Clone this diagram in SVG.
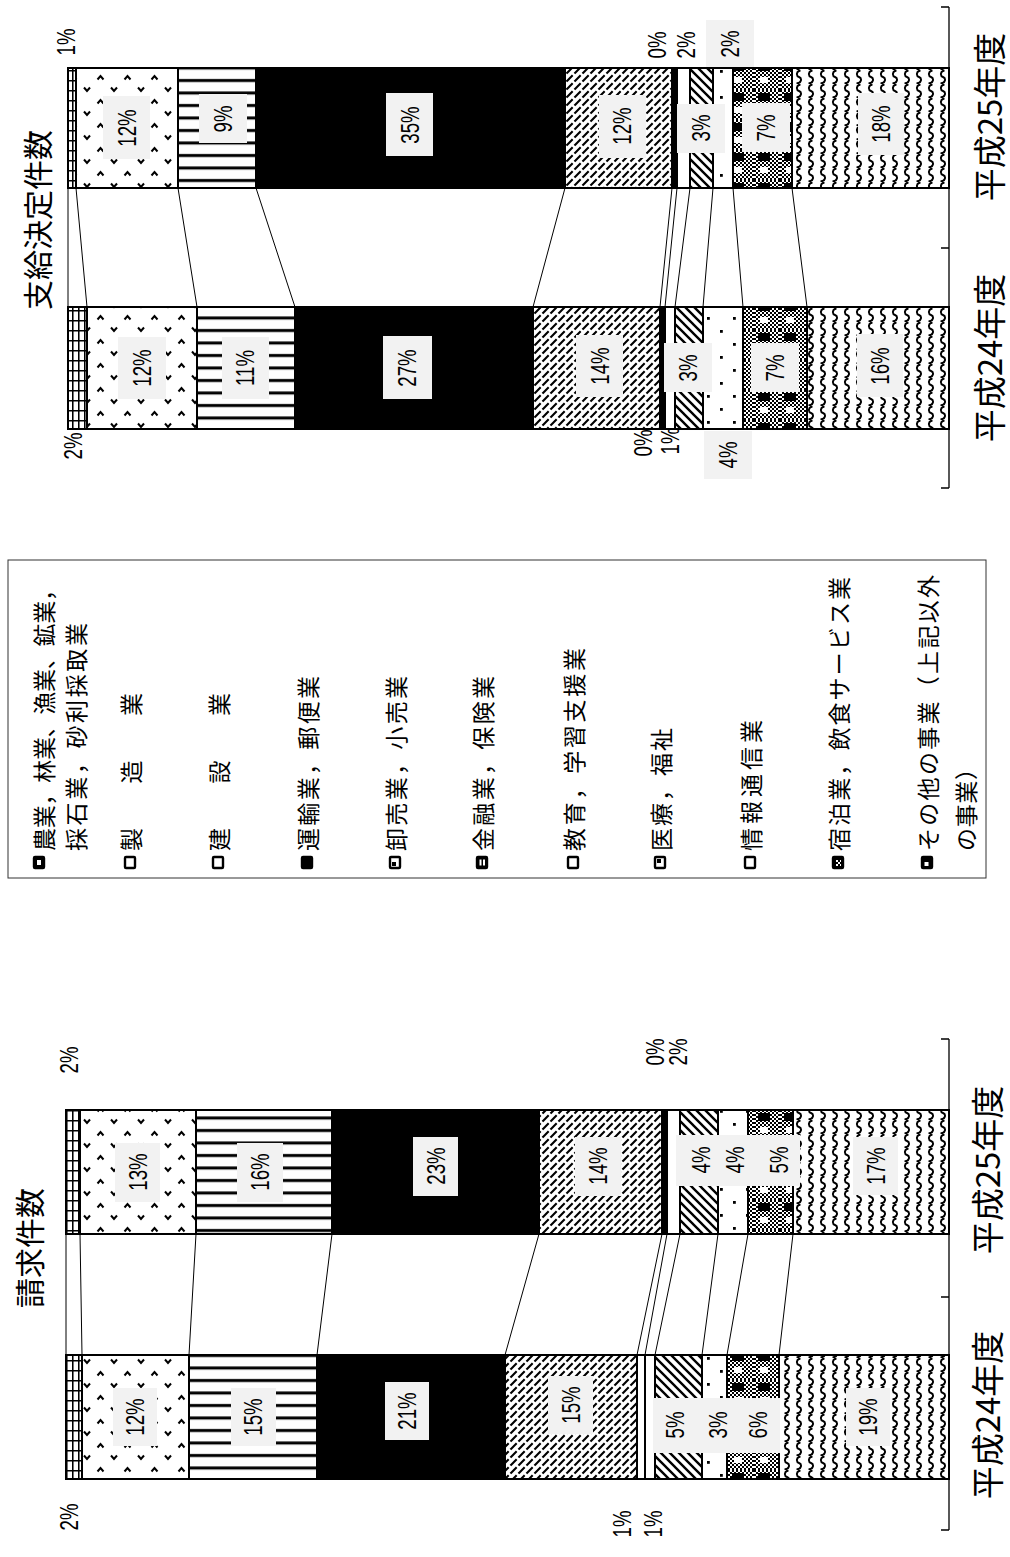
<svg xmlns="http://www.w3.org/2000/svg" width="1010" height="1557" viewBox="0 0 1010 1557">
<style>
.s{stroke:#000;stroke-width:2}
.c{stroke:#000;stroke-width:1;fill:none}
.ax{stroke:#000;stroke-width:1.3;fill:none}
.bx{fill:#f2f2f2}
.pct{font-family:"Liberation Sans",Arial,sans-serif;font-size:26px;fill:#000;text-anchor:middle;dominant-baseline:central}
.lg{font-family:"Noto Sans CJK JP","Noto Sans CJK SC",sans-serif;font-size:23px;fill:#000;dominant-baseline:central}
.ttl{font-family:"Noto Sans CJK JP","Noto Sans CJK SC",sans-serif;font-size:30px;fill:#000;text-anchor:middle;dominant-baseline:central}
.yr{font-family:"Noto Sans CJK JP","Noto Sans CJK SC",sans-serif;font-size:33px;fill:#000;text-anchor:middle;dominant-baseline:central}
.ic{stroke:#000;stroke-width:2.4}
</style>
<defs>
<pattern id="pAgri" width="6" height="10" patternUnits="userSpaceOnUse">
<rect width="6" height="10" fill="#fff"/>
<path d="M0.75,0V10M0,0.75H6" stroke="#000" stroke-width="1.6"/>
</pattern>
<pattern id="pManu" width="27" height="24" patternUnits="userSpaceOnUse">
<rect width="27" height="24" fill="#fff"/>
<path d="M16.5,7.5 l3,-3.5 l3,3.5 M3,15.5 l3,3.5 l3,-3.5" stroke="#000" stroke-width="2" fill="none"/>
</pattern>
<pattern id="pCons" width="10" height="12.5" patternUnits="userSpaceOnUse">
<rect width="10" height="12.5" fill="#fff"/>
<rect y="4" width="10" height="3" fill="#000"/>
</pattern>
<pattern id="pWhole" width="8" height="8" patternUnits="userSpaceOnUse">
<rect width="8" height="8" fill="#fff"/>
<path d="M-1,9 L9,-1 M-1,1 L1,-1 M7,9 L9,7" stroke="#000" stroke-width="2.1" stroke-dasharray="8 2.5"/>
</pattern>
<pattern id="pMed" width="9" height="9" patternUnits="userSpaceOnUse">
<rect width="9" height="9" fill="#fff"/>
<path d="M-1,-1 L10,10 M-1,8 L1,10 M8,-1 L10,1" stroke="#000" stroke-width="2.4"/>
</pattern>
<pattern id="pInfo" width="26" height="26" patternUnits="userSpaceOnUse">
<rect width="26" height="26" fill="#fff"/>
<rect x="5" y="5" width="2.8" height="2.8" fill="#000"/>
<rect x="18" y="18" width="2.8" height="2.8" fill="#000"/>
</pattern>
<pattern id="pChk" width="4" height="4" patternUnits="userSpaceOnUse">
<rect width="4" height="4" fill="#fff"/>
<rect width="2" height="2" fill="#000"/>
<rect x="2" y="2" width="2" height="2" fill="#000"/>
</pattern>
<pattern id="pHosp" width="26" height="30" patternUnits="userSpaceOnUse">
<rect width="26" height="30" fill="url(#pChk)"/>
<rect x="4" y="3" width="12" height="8" fill="#000"/>
<rect x="6" y="17" width="8" height="6" fill="#fff"/>
</pattern>
<pattern id="pOth" width="12" height="14" patternUnits="userSpaceOnUse">
<rect width="12" height="14" fill="#fff"/>
<path d="M8.5,0.5 c-4.5,0.5 -4.5,5.5 -1.5,6.5 c3,1 3,6 -2.5,6.5" stroke="#000" stroke-width="1.9" fill="none"/>
</pattern>
</defs>

<rect width="1010" height="1557" fill="#fff"/>

<!-- Top chart: 支給決定件数 -->
<g id="title-top"><text class="ttl" transform="translate(36,220) rotate(-90)">支給決定件数</text></g>

<g id="axis-top">
<path class="ax" d="M949,7V488M941,7H949M941,248H949M941,488H949"/>
</g>

<g id="bar-top-h25">
<rect class="s" x="68" y="68" width="8" height="120" fill="url(#pAgri)"/>
<rect class="s" x="76" y="68" width="102" height="120" fill="url(#pManu)"/>
<rect class="s" x="178" y="68" width="78" height="120" fill="url(#pCons)"/>
<rect class="s" x="256" y="68" width="309" height="120" fill="#000"/>
<rect class="s" x="565" y="68" width="107" height="120" fill="url(#pWhole)"/>
<rect class="s" x="672" y="68" width="5" height="120" fill="#000"/>
<rect class="s" x="677" y="68" width="13" height="120" fill="#fff"/>
<rect class="s" x="690" y="68" width="23" height="120" fill="url(#pMed)"/>
<rect class="s" x="713" y="68" width="20" height="120" fill="url(#pInfo)"/>
<rect class="s" x="733" y="68" width="59" height="120" fill="url(#pHosp)"/>
<rect class="s" x="792" y="68" width="157" height="120" fill="url(#pOth)"/>
</g>

<g id="bar-top-h24">
<rect class="s" x="68" y="307" width="19" height="122" fill="url(#pAgri)"/>
<rect class="s" x="87" y="307" width="110" height="122" fill="url(#pManu)"/>
<rect class="s" x="197" y="307" width="98" height="122" fill="url(#pCons)"/>
<rect class="s" x="295" y="307" width="238" height="122" fill="#000"/>
<rect class="s" x="533" y="307" width="127" height="122" fill="url(#pWhole)"/>
<rect class="s" x="660" y="307" width="5" height="122" fill="#000"/>
<rect class="s" x="665" y="307" width="10" height="122" fill="#fff"/>
<rect class="s" x="675" y="307" width="28" height="122" fill="url(#pMed)"/>
<rect class="s" x="703" y="307" width="40" height="122" fill="url(#pInfo)"/>
<rect class="s" x="743" y="307" width="64" height="122" fill="url(#pHosp)"/>
<rect class="s" x="807" y="307" width="142" height="122" fill="url(#pOth)"/>
</g>

<g id="connectors-top">
<path class="c" d="M68,188L68,307M76,188L87,307M178,188L197,307M256,188L295,307M565,188L533,307M672,188L660,307M677,188L665,307M690,188L675,307M713,188L703,307M733,188L743,307M792,188L807,307"/>
</g>

<g id="labels-top">
<rect class="bx" x="103" y="96" width="47" height="63"/><text class="pct" transform="translate(127,128) rotate(-90) scale(0.72,1)">12%</text>
<rect class="bx" x="199" y="94" width="48" height="49"/><text class="pct" transform="translate(223,119) rotate(-90) scale(0.72,1)">9%</text>
<rect class="bx" x="386" y="93" width="47" height="63"/><text class="pct" transform="translate(410,125) rotate(-90) scale(0.72,1)">35%</text>
<rect class="bx" x="599" y="95" width="47" height="63"/><text class="pct" transform="translate(622,126) rotate(-90) scale(0.72,1)">12%</text>
<rect class="bx" x="677" y="104" width="48" height="49"/><text class="pct" transform="translate(701,128) rotate(-90) scale(0.72,1)">3%</text>
<rect class="bx" x="742" y="103" width="48" height="49"/><text class="pct" transform="translate(766,128) rotate(-90) scale(0.72,1)">7%</text>
<rect class="bx" x="858" y="93" width="46" height="62"/><text class="pct" transform="translate(881,124) rotate(-90) scale(0.72,1)">18%</text>
<text class="pct" transform="translate(66,42) rotate(-90) scale(0.72,1)">1%</text>
<text class="pct" transform="translate(657,45) rotate(-90) scale(0.72,1)">0%</text>
<text class="pct" transform="translate(686,45) rotate(-90) scale(0.72,1)">2%</text>
<rect class="bx" x="706" y="20" width="48" height="47"/><text class="pct" transform="translate(730,44) rotate(-90) scale(0.72,1)">2%</text>

<rect class="bx" x="118" y="337" width="48" height="62"/><text class="pct" transform="translate(142,368) rotate(-90) scale(0.72,1)">12%</text>
<rect class="bx" x="222" y="337" width="47" height="62"/><text class="pct" transform="translate(245,368) rotate(-90) scale(0.72,1)">11%</text>
<rect class="bx" x="383" y="336" width="49" height="63"/><text class="pct" transform="translate(407,368) rotate(-90) scale(0.72,1)">27%</text>
<rect class="bx" x="576" y="335" width="47" height="62"/><text class="pct" transform="translate(600,366) rotate(-90) scale(0.72,1)">14%</text>
<rect class="bx" x="664" y="343" width="48" height="49"/><text class="pct" transform="translate(688,368) rotate(-90) scale(0.72,1)">3%</text>
<rect class="bx" x="751" y="343" width="48" height="49"/><text class="pct" transform="translate(775,368) rotate(-90) scale(0.72,1)">7%</text>
<rect class="bx" x="857" y="334" width="46" height="63"/><text class="pct" transform="translate(880,366) rotate(-90) scale(0.72,1)">16%</text>
<text class="pct" transform="translate(73,446) rotate(-90) scale(0.72,1)">2%</text>
<text class="pct" transform="translate(643,443) rotate(-90) scale(0.72,1)">0%</text>
<text class="pct" transform="translate(670,441) rotate(-90) scale(0.72,1)">1%</text>
<rect class="bx" x="704" y="431" width="48" height="48"/><text class="pct" transform="translate(728,455) rotate(-90) scale(0.72,1)">4%</text>
</g>

<g id="years-top">
<text class="yr" transform="translate(988,117) rotate(-90)">平成25年度</text>
<text class="yr" transform="translate(988,358) rotate(-90)">平成24年度</text>
</g>

<!-- Legend -->
<g id="legend">
<rect x="8" y="560" width="978" height="318" fill="#fff" stroke="#333" stroke-width="1"/>
<g id="leg-agri">
<rect class="ic" x="34" y="857" width="10" height="11" fill="#000" rx="1"/><rect x="37" y="860" width="4" height="5" fill="#fff"/>
<text class="lg" transform="translate(43,851) rotate(-90)" textLength="273" lengthAdjust="spacing">農業，林業、漁業、鉱業，</text>
<text class="lg" transform="translate(75,851) rotate(-90)" textLength="228" lengthAdjust="spacing">採石業，砂利採取業</text>
</g>
<g id="leg-manu">
<rect class="ic" x="125" y="857" width="10" height="11" fill="#fff" rx="1"/>
<text class="lg" transform="translate(130,851) rotate(-90)" textLength="158" lengthAdjust="spacing">製　　造　　業</text>
</g>
<g id="leg-cons">
<rect class="ic" x="213" y="857" width="10" height="11" fill="#fff" rx="1"/>
<text class="lg" transform="translate(218,851) rotate(-90)" textLength="158" lengthAdjust="spacing">建　　設　　業</text>
</g>
<g id="leg-trans">
<rect class="ic" x="302" y="857" width="10" height="11" fill="#000" rx="1"/>
<text class="lg" transform="translate(307,851) rotate(-90)" textLength="175" lengthAdjust="spacing">運輸業，郵便業</text>
</g>
<g id="leg-whole">
<rect class="ic" x="390" y="857" width="10" height="11" fill="#fff" rx="1"/><rect x="392" y="862" width="4" height="4" fill="#000"/>
<text class="lg" transform="translate(395,851) rotate(-90)" textLength="175" lengthAdjust="spacing">卸売業，小売業</text>
</g>
<g id="leg-fin">
<rect class="ic" x="477" y="857" width="10" height="11" fill="#000" rx="1"/><rect x="479.5" y="859.5" width="2" height="6" fill="#fff"/><rect x="483" y="859.5" width="2" height="6" fill="#fff"/>
<text class="lg" transform="translate(482,851) rotate(-90)" textLength="175" lengthAdjust="spacing">金融業，保険業</text>
</g>
<g id="leg-edu">
<rect class="ic" x="568" y="857" width="10" height="11" fill="#fff" rx="1"/>
<text class="lg" transform="translate(573,851) rotate(-90)" textLength="203" lengthAdjust="spacing">教育，学習支援業</text>
</g>
<g id="leg-med">
<rect class="ic" x="655" y="857" width="10" height="11" fill="#fff" rx="1"/><rect x="657" y="859" width="4" height="4" fill="#000"/>
<text class="lg" transform="translate(660,851) rotate(-90)" textLength="123" lengthAdjust="spacing">医療，福祉</text>
</g>
<g id="leg-info">
<rect class="ic" x="745" y="857" width="10" height="11" fill="#fff" rx="1"/>
<text class="lg" transform="translate(750,851) rotate(-90)" textLength="131" lengthAdjust="spacing">情報通信業</text>
</g>
<g id="leg-hosp">
<rect class="ic" x="833" y="857" width="10" height="11" fill="#000" rx="1"/><rect x="836" y="860" width="2" height="2" fill="#fff"/><rect x="838" y="862" width="2" height="2" fill="#fff"/><rect x="836" y="864" width="2" height="2" fill="#fff"/><rect x="840" y="860" width="1" height="2" fill="#fff"/><rect x="840" y="864" width="1" height="2" fill="#fff"/>
<text class="lg" transform="translate(838,851) rotate(-90)" textLength="274" lengthAdjust="spacing">宿泊業，飲食サービス業</text>
</g>
<g id="leg-oth">
<rect class="ic" x="922" y="857" width="10" height="11" fill="#000" rx="1"/><rect x="924.5" y="862" width="4" height="4" fill="#fff"/>
<text class="lg" transform="translate(927,851) rotate(-90)" textLength="276" lengthAdjust="spacing">その他の事業（上記以外</text>
<text class="lg" transform="translate(965,851) rotate(-90)" textLength="94" lengthAdjust="spacing">の事業）</text>
</g>
</g>

<!-- Bottom chart: 請求件数 -->
<g id="title-bottom"><text class="ttl" transform="translate(28,1248) rotate(-90)">請求件数</text></g>

<g id="axis-bottom">
<path class="ax" d="M949,1039V1530M941,1039H949M941,1297H949M941,1530H949"/>
</g>

<g id="bar-bottom-h25">
<rect class="s" x="66" y="1110" width="14" height="124" fill="url(#pAgri)"/>
<rect class="s" x="80" y="1110" width="116" height="124" fill="url(#pManu)"/>
<rect class="s" x="196" y="1110" width="136" height="124" fill="url(#pCons)"/>
<rect class="s" x="332" y="1110" width="207" height="124" fill="#000"/>
<rect class="s" x="539" y="1110" width="123" height="124" fill="url(#pWhole)"/>
<rect class="s" x="662" y="1110" width="5" height="124" fill="#000"/>
<rect class="s" x="667" y="1110" width="13" height="124" fill="#fff"/>
<rect class="s" x="680" y="1110" width="38" height="124" fill="url(#pMed)"/>
<rect class="s" x="718" y="1110" width="30" height="124" fill="url(#pInfo)"/>
<rect class="s" x="748" y="1110" width="45" height="124" fill="url(#pHosp)"/>
<rect class="s" x="793" y="1110" width="156" height="124" fill="url(#pOth)"/>
</g>

<g id="bar-bottom-h24">
<rect class="s" x="66" y="1355" width="16" height="124" fill="url(#pAgri)"/>
<rect class="s" x="82" y="1355" width="107" height="124" fill="url(#pManu)"/>
<rect class="s" x="189" y="1355" width="128" height="124" fill="url(#pCons)"/>
<rect class="s" x="317" y="1355" width="188" height="124" fill="#000"/>
<rect class="s" x="505" y="1355" width="132" height="124" fill="url(#pWhole)"/>
<rect class="s" x="637" y="1355" width="8" height="124" fill="#fff"/>
<rect class="s" x="645" y="1355" width="10" height="124" fill="#fff"/>
<rect class="s" x="655" y="1355" width="47" height="124" fill="url(#pMed)"/>
<rect class="s" x="702" y="1355" width="25" height="124" fill="url(#pInfo)"/>
<rect class="s" x="727" y="1355" width="52" height="124" fill="url(#pHosp)"/>
<rect class="s" x="779" y="1355" width="170" height="124" fill="url(#pOth)"/>
</g>

<g id="connectors-bottom">
<path class="c" d="M66,1234L66,1355M80,1234L82,1355M196,1234L189,1355M332,1234L317,1355M539,1234L505,1355M662,1234L637,1355M667,1234L645,1355M680,1234L655,1355M718,1234L702,1355M748,1234L727,1355M793,1234L779,1355"/>
</g>

<g id="labels-bottom">
<rect class="bx" x="115" y="1143" width="45" height="59"/><text class="pct" transform="translate(138,1172) rotate(-90) scale(0.72,1)">13%</text>
<rect class="bx" x="237" y="1143" width="46" height="59"/><text class="pct" transform="translate(260,1172) rotate(-90) scale(0.72,1)">16%</text>
<rect class="bx" x="413" y="1137" width="45" height="59"/><text class="pct" transform="translate(436,1166) rotate(-90) scale(0.72,1)">23%</text>
<rect class="bx" x="575" y="1137" width="46" height="59"/><text class="pct" transform="translate(598,1166) rotate(-90) scale(0.72,1)">14%</text>
<rect class="bx" x="676" y="1135" width="124" height="51"/>
<text class="pct" transform="translate(701,1160) rotate(-90) scale(0.72,1)">4%</text>
<text class="pct" transform="translate(735,1160) rotate(-90) scale(0.72,1)">4%</text>
<text class="pct" transform="translate(779,1160) rotate(-90) scale(0.72,1)">5%</text>
<rect class="bx" x="853" y="1137" width="45" height="58"/><text class="pct" transform="translate(876,1166) rotate(-90) scale(0.72,1)">17%</text>
<text class="pct" transform="translate(69,1060) rotate(-90) scale(0.72,1)">2%</text>
<text class="pct" transform="translate(655,1052) rotate(-90) scale(0.72,1)">0%</text>
<text class="pct" transform="translate(678,1052) rotate(-90) scale(0.72,1)">2%</text>

<rect class="bx" x="113" y="1388" width="44" height="58"/><text class="pct" transform="translate(135,1417) rotate(-90) scale(0.72,1)">12%</text>
<rect class="bx" x="231" y="1388" width="45" height="58"/><text class="pct" transform="translate(253,1417) rotate(-90) scale(0.72,1)">15%</text>
<rect class="bx" x="385" y="1382" width="44" height="58"/><text class="pct" transform="translate(407,1411) rotate(-90) scale(0.72,1)">21%</text>
<rect class="bx" x="548" y="1376" width="45" height="58"/><text class="pct" transform="translate(571,1405) rotate(-90) scale(0.72,1)">15%</text>
<rect class="bx" x="653" y="1398" width="127" height="55"/>
<text class="pct" transform="translate(675,1425) rotate(-90) scale(0.72,1)">5%</text>
<text class="pct" transform="translate(718,1425) rotate(-90) scale(0.72,1)">3%</text>
<text class="pct" transform="translate(758,1425) rotate(-90) scale(0.72,1)">6%</text>
<rect class="bx" x="846" y="1388" width="44" height="58"/><text class="pct" transform="translate(868,1417) rotate(-90) scale(0.72,1)">19%</text>
<text class="pct" transform="translate(69,1517) rotate(-90) scale(0.72,1)">2%</text>
<text class="pct" transform="translate(622,1524) rotate(-90) scale(0.72,1)">1%</text>
<text class="pct" transform="translate(653,1524) rotate(-90) scale(0.72,1)">1%</text>
</g>

<g id="years-bottom">
<text class="yr" transform="translate(986,1170) rotate(-90)">平成25年度</text>
<text class="yr" transform="translate(986,1415) rotate(-90)">平成24年度</text>
</g>
</svg>
